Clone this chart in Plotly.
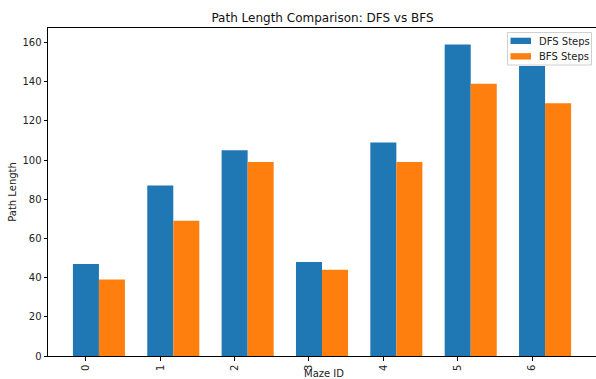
import plotly.graph_objects as go

maze_ids = [0, 1, 2, 3, 4, 5, 6]
dfs_steps = [47, 87, 105, 48, 109, 159, 148]
bfs_steps = [39, 69, 99, 44, 99, 139, 129]
y_ticks = [0, 20, 40, 60, 80, 100, 120, 140, 160]
series_names = ["DFS Steps", "BFS Steps"]
series_colors = ["#1f77b4", "#ff7f0e"]

FONT = "DejaVu Sans"
W, H = 596, 379
ML, MR, MT, MB = 48, 0, 28, 23
PW, PH = W - ML - MR, H - MT - MB

fig = go.Figure()
fig.add_trace(go.Bar(x=maze_ids, y=dfs_steps, name=series_names[0],
                     marker=dict(color=series_colors[0], line=dict(width=0)),
                     width=0.35, offset=-0.175))
fig.add_trace(go.Bar(x=maze_ids, y=bfs_steps, name=series_names[1],
                     marker=dict(color=series_colors[1], line=dict(width=0)),
                     width=0.35, offset=0.175))

# legend drawn in pixel positions converted to paper (plot-area) coordinates
def px(x):
    return (x - ML) / PW

def py(y):
    return (H - MB - y) / PH

shapes = [dict(type="rect", xref="paper", yref="paper",
               x0=px(507.5), x1=px(591.5), y0=py(65), y1=py(32.5),
               fillcolor="rgba(255,255,255,0.85)", line=dict(color="#d0d0d0", width=1))]
annotations = []
for i, (nm, col) in enumerate(zip(series_names, series_colors)):
    yc = 41 + i * 15.5
    shapes.append(dict(type="rect", xref="paper", yref="paper",
                       x0=px(510.5), x1=px(531), y0=py(yc + 3), y1=py(yc - 3.3),
                       fillcolor=col, line=dict(width=0)))
    annotations.append(dict(text=nm, xref="paper", yref="paper", x=px(537), y=py(yc),
                            xanchor="left", yanchor="middle", showarrow=False,
                            font=dict(size=10, family=FONT, color="#222")))

# x-axis title
annotations.append(dict(text="Maze ID", xref="paper", yref="paper", x=px(323.5), y=py(373.5),
                        xanchor="center", yanchor="middle", showarrow=False,
                        font=dict(size=10, family=FONT, color="#222")))

fig.update_layout(
    width=W, height=H,
    margin=dict(l=ML, r=MR, t=MT, b=MB, autoexpand=False),
    paper_bgcolor="white", plot_bgcolor="white",
    font=dict(family=FONT, size=10, color="#222"),
    title=dict(text="Path Length Comparison: DFS vs BFS", x=322.5 / W,
               xanchor="center", y=1 - 18 / H, yanchor="middle",
               font=dict(size=12, family=FONT, color="#111")),
    barmode="overlay",
    showlegend=False,
    shapes=shapes,
    annotations=annotations,
)
fig.update_xaxes(
    range=[-0.51, 6.86], tickmode="array", tickvals=maze_ids,
    ticktext=[str(m) for m in maze_ids], tickangle=-90, automargin=False,
    showline=True, linecolor="black", linewidth=1, mirror=True,
    ticks="outside", ticklen=3.5, tickcolor="black", showgrid=False, zeroline=False,
    tickfont=dict(size=10, family=FONT),
)
fig.update_yaxes(
    range=[0, 167.4], tickmode="array", tickvals=y_ticks, automargin=False,
    showline=True, linecolor="black", linewidth=1, mirror=True,
    ticks="outside", ticklen=3.5, tickcolor="black", showgrid=False, zeroline=False,
    title=dict(text="Path Length", standoff=3, font=dict(size=10, family=FONT)),
    tickfont=dict(size=10, family=FONT),
)

fig.write_html("out.html", config={"displayModeBar": False},
               post_script="document.body.style.margin='0';document.body.style.overflow='hidden';")
